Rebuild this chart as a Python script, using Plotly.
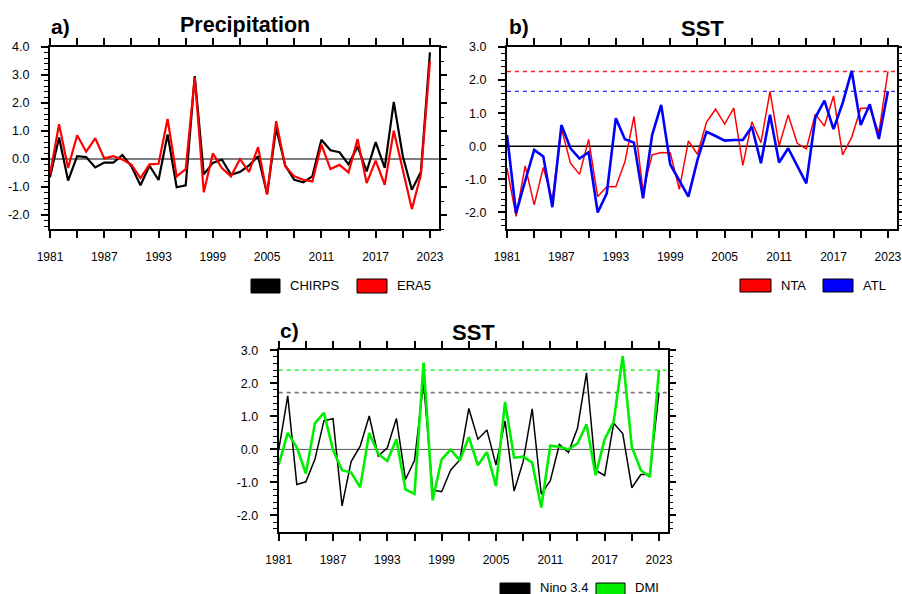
import plotly.graph_objects as go

W, H = 902, 594

YEARS = list(range(1981, 2024))
X_TICKS = list(range(1981, 2024, 3))
X_LABELS = [str(y) if (y - 1981) % 6 == 0 else "" for y in X_TICKS]

CHIRPS = [-0.65, 0.77, -0.77, 0.10, 0.07, -0.30, -0.13, -0.13, 0.14, -0.26,
          -0.94, -0.24, -0.75, 0.88, -1.01, -0.94, 2.96, -0.55, -0.14, -0.02,
          -0.56, -0.46, -0.23, 0.10, -1.25, 1.10, -0.23, -0.74, -0.83, -0.62,
          0.69, 0.31, 0.24, -0.19, 0.45, -0.44, 0.60, -0.32, 2.04, 0.10,
          -1.10, -0.46, 3.81]
ERA5 = [-0.55, 1.24, -0.32, 0.85, 0.26, 0.74, 0.02, 0.10, -0.02, -0.20,
        -0.68, -0.19, -0.17, 1.43, -0.62, -0.36, 2.92, -1.19, 0.20, -0.32,
        -0.62, 0.00, -0.46, 0.42, -1.27, 1.35, -0.26, -0.62, -0.74, -0.80,
        0.51, -0.36, -0.21, -0.48, 0.71, -0.86, -0.06, -0.92, 1.01, -0.38,
        -1.79, -0.56, 3.49]
NTA = [-0.66, -2.12, -0.59, -1.77, -0.64, -1.62, 0.54, -0.51, -0.85, 0.21,
       -1.52, -1.22, -1.22, -0.47, 0.90, -1.35, -0.26, -0.19, -0.20, -1.30,
       0.16, -0.24, 0.73, 1.12, 0.67, 1.15, -0.58, 0.74, 0.11, 1.66,
       0.01, 0.95, 0.09, -0.08, 0.97, 0.61, 1.52, -0.26, 0.27, 1.15,
       1.15, 0.41, 2.26]
ATL = [0.34, -2.02, -1.05, -0.11, -0.31, -1.84, 0.64, -0.06, -0.37, -0.18,
       -2.00, -1.42, 0.85, 0.21, 0.11, -1.57, 0.34, 1.25, -0.55, -1.02,
       -1.52, -0.41, 0.44, 0.31, 0.17, 0.19, 0.19, 0.59, -0.51, 0.95,
       -0.49, -0.06, -0.58, -1.12, 0.87, 1.38, 0.52, 1.30, 2.28, 0.64,
       1.27, 0.22, 1.66]
NINO34 = [-0.02, 1.62, -1.06, -0.98, -0.30, 0.87, 0.93, -1.71, -0.37, 0.10,
          1.01, -0.20, 0.05, 0.94, -0.91, -0.34, 2.02, -1.23, -1.28, -0.62,
          -0.32, 1.24, 0.31, 0.59, -0.47, 0.86, -1.26, -0.37, 1.23, -1.35,
          -0.95, 0.15, -0.09, 0.64, 2.32, -0.63, -0.79, 0.79, 0.48, -1.16,
          -0.76, -0.75, 1.72]
DMI = [-0.46, 0.50, 0.06, -0.73, 0.79, 1.11, -0.02, -0.63, -0.70, -1.15,
       0.50, -0.14, -0.35, 0.31, -1.21, -1.35, 2.63, -1.54, -0.30, 0.00,
       -0.34, 0.37, -0.48, -0.08, -1.11, 1.44, -0.25, -0.22, -0.40, -1.76,
       0.11, 0.08, 0.00, 0.18, 0.76, -0.78, 0.30, 0.84, 2.83, 0.08,
       -0.63, -0.83, 2.40]

Y_TICKS_A = [-2, -1, 0, 1, 2, 3, 4]
Y_TICKS_BC = [-2, -1, 0, 1, 2, 3]

FONT = "Liberation Sans, Arial, Helvetica, sans-serif"


def px(x):
    return x / W


def py(y):
    return 1 - y / H


# panel boxes in pixels (left, right, top, bottom)
PANELS = {
    "a": (50, 439, 47, 229),
    "b": (507, 897, 47, 229),
    "c": (278.7, 668, 350.3, 532),
}

fig = go.Figure()

traces = [
    ("x", "y", CHIRPS, "CHIRPS", "black", 2.2),
    ("x", "y", ERA5, "ERA5", "#ff0000", 2.2),
    ("x2", "y2", NTA, "NTA", "#ff0000", 1.5),
    ("x2", "y2", ATL, "ATL", "#0000ff", 2.6),
    ("x3", "y3", NINO34, "Nino 3.4", "black", 1.5),
    ("x3", "y3", DMI, "DMI", "#00ee00", 2.6),
]
for xa, ya, vals, name, col, lw in traces:
    fig.add_trace(go.Scatter(x=YEARS, y=vals, mode="lines", name=name,
                             line=dict(color=col, width=lw),
                             xaxis=xa, yaxis=ya, showlegend=False))


def xaxis_cfg(key):
    l, r, t, b = PANELS[key]
    return dict(domain=[px(l), px(r)], range=[1981, 2024], showgrid=False,
                zeroline=False, showline=True, linecolor="black", linewidth=2,
                mirror="ticks", ticks="outside", ticklen=7, tickwidth=2,
                tickcolor="black", tickmode="array", tickvals=X_TICKS,
                ticktext=X_LABELS, ticklabelstandoff=9, automargin=False,
                tickfont=dict(family=FONT, size=12, color="black"))


def yaxis_cfg(key, xa, rng, ticks):
    l, r, t, b = PANELS[key]
    return dict(domain=[py(b), py(t)], range=rng, anchor=xa, showgrid=False,
                zeroline=False, showline=True, linecolor="black", linewidth=2,
                mirror=True, ticks="outside", ticklen=7, tickwidth=2,
                tickcolor="black", tickmode="array", tickvals=ticks,
                ticktext=["%.1f" % v for v in ticks], ticklabelstandoff=9,
                automargin=False,
                tickfont=dict(family=FONT, size=12.5, color="black"),
                minor=dict(tickmode="linear", tick0=0, dtick=0.2, ticks="outside",
                           ticklen=4, tickwidth=1, tickcolor="black", showgrid=False))


def yaxis_right_cfg(over, xa, rng, ticks, minor_step):
    return dict(overlaying=over, anchor=xa, side="right", range=rng,
                showgrid=False, zeroline=False, showline=False,
                ticks="outside", ticklen=7, tickwidth=2, tickcolor="black",
                tickmode="array", tickvals=ticks, ticktext=["" for _ in ticks],
                automargin=False,
                minor=dict(tickmode="linear", tick0=0, dtick=minor_step,
                           ticks="outside", ticklen=4, tickwidth=1,
                           tickcolor="black", showgrid=False))


fig.update_layout(
    template="none",
    width=W, height=H, autosize=False, margin=dict(l=0, r=0, t=0, b=0, pad=0),
    paper_bgcolor="white", plot_bgcolor="white", showlegend=False,
    xaxis=dict(**xaxis_cfg("a"), anchor="y"),
    yaxis=yaxis_cfg("a", "x", [-2.5, 4.0], Y_TICKS_A),
    xaxis2=dict(**xaxis_cfg("b"), anchor="y2"),
    yaxis2=yaxis_cfg("b", "x2", [-2.5, 3.0], Y_TICKS_BC),
    xaxis3=dict(**xaxis_cfg("c"), anchor="y3"),
    yaxis3=yaxis_cfg("c", "x3", [-2.5, 3.0], Y_TICKS_BC),
    yaxis4=yaxis_right_cfg("y", "x", [-2.5, 4.0], Y_TICKS_A, 0.5),
    yaxis5=yaxis_right_cfg("y2", "x2", [-2.5, 3.0], Y_TICKS_BC, 0.2),
    yaxis6=yaxis_right_cfg("y3", "x3", [-2.5, 3.0], Y_TICKS_BC, 0.2),
)

# invisible carriers so the right-side tick axes are drawn
for xa, ya in [("x", "y4"), ("x2", "y5"), ("x3", "y6")]:
    fig.add_trace(go.Scatter(x=[], y=[], xaxis=xa, yaxis=ya, showlegend=False,
                             hoverinfo="skip"))

shapes = []
# zero reference lines
for xa, ya, col, lw in [("x", "y", "black", 1), ("x2", "y2", "black", 1.6),
                        ("x3", "y3", "#555555", 1)]:
    shapes.append(dict(type="line", xref=xa + " domain", yref=ya, x0=0, x1=1,
                       y0=0, y1=0, line=dict(color=col, width=lw), layer="below"))
# dashed lines at the latest (2023) value
for xa, ya, vals, col, lw in [("x2", "y2", NTA, "#ff2020", 1.3),
                              ("x2", "y2", ATL, "#3030ff", 1.3),
                              ("x3", "y3", DMI, "#00ee00", 1.3),
                              ("x3", "y3", NINO34, "#777777", 1.6)]:
    shapes.append(dict(type="line", xref=xa + " domain", yref=ya, x0=0, x1=1,
                       y0=vals[-1], y1=vals[-1],
                       line=dict(color=col, width=lw, dash="4px,4px"), layer="below"))

annotations = []
# titles
for txt, x, y, anchor, sz in [("a)", 49, 26, "left", 21),
                              ("Precipitation", 244.5, 25, "center", 21.5),
                              ("b)", 507, 26, "left", 21),
                              ("SST", 702, 28, "center", 22),
                              ("c)", 278, 330, "left", 21),
                              ("SST", 473, 332, "center", 22)]:
    annotations.append(dict(text="<b>%s</b>" % txt, x=px(x), y=py(y), xref="paper",
                            yref="paper", xanchor=anchor, yanchor="middle",
                            showarrow=False,
                            font=dict(family=FONT, size=sz, color="black")))

# legends (filled boxes + labels)
LEGENDS = [
    [("CHIRPS", "black", 251, 280, 279, 293), ("ERA5", "#ff0000", 357, 387, 279, 293)],
    [("NTA", "#ff0000", 740, 771, 279, 292), ("ATL", "#0000ff", 823, 853, 279, 292)],
    [("Nino 3.4", "black", 500, 530, 583, 597), ("DMI", "#00ee00", 596, 625, 583, 597)],
]
for group in LEGENDS:
    for name, col, x0, x1, y0, y1 in group:
        shapes.append(dict(type="rect", xref="paper", yref="paper", x0=px(x0),
                           x1=px(x1), y0=py(y1), y1=py(y0), fillcolor=col,
                           line=dict(color="black", width=1)))
        annotations.append(dict(text=name, x=px(x1 + 8), y=py(min((y0 + y1) / 2, 587)),
                                xref="paper", yref="paper", xanchor="left",
                                yanchor="middle", showarrow=False,
                                font=dict(family=FONT, size=13, color="black")))

fig.update_layout(shapes=shapes, annotations=annotations)
fig.write_html("out.html", config={"displayModeBar": False, "staticPlot": True},
               post_script="document.body.style.margin='0';document.body.style.overflow='hidden';")
